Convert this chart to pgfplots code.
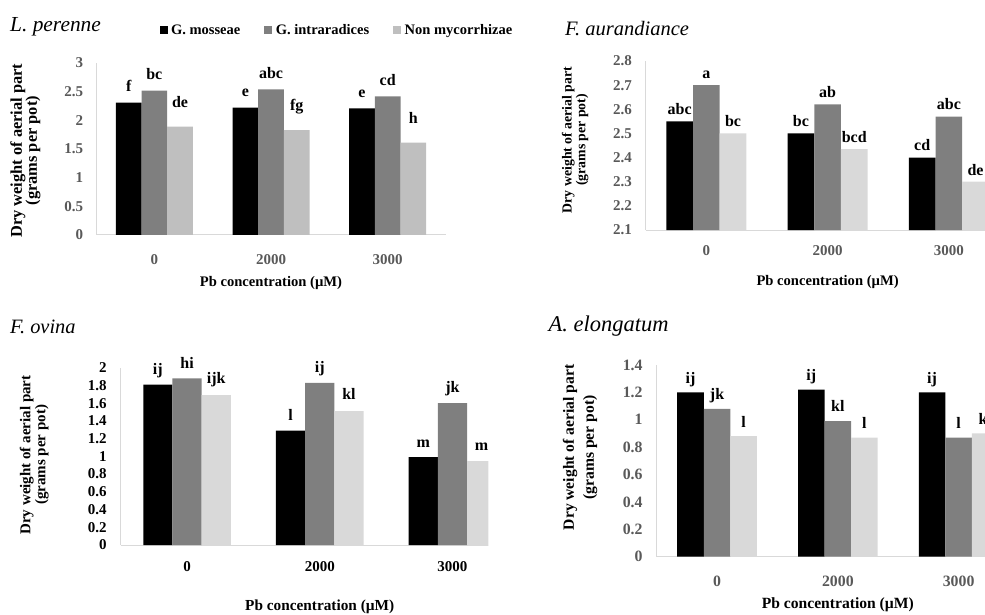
\documentclass[border=0pt]{standalone}
\usepackage{fontspec}
\setmainfont{Liberation Serif}
\usepackage{pgfplots}
\pgfplotsset{compat=1.18}
\usepackage{pgfplotstable}

\definecolor{cgi}{HTML}{7F7F7F}
\definecolor{cnmA}{HTML}{BFBFBF}
\definecolor{cnmB}{HTML}{D9D9D9}
\definecolor{tickgray}{HTML}{595959}
\definecolor{axgray}{HTML}{D9D9D9}
\newcommand\fs[2]{\fontsize{#1}{#2}\selectfont}

\pgfplotstableread{
x gm gi nm lgm lgi lnm
0 2.31 2.52 1.89 f bc de
1 2.22 2.54 1.83 e abc fg
2 2.21 2.42 1.61 e cd h
}\tabA
\pgfplotstableread{
x gm gi nm lgm lgi lnm
0 2.55 2.70 2.50 abc a bc
1 2.50 2.62 2.435 bc ab bcd
2 2.40 2.57 2.30 cd abc de
}\tabB
\pgfplotstableread{
x gm gi nm lgm lgi lnm
0 1.81 1.88 1.69 ij hi ijk
1 1.29 1.83 1.51 l ij kl
2 0.99 1.60 0.945 m jk m
}\tabC
\pgfplotstableread{
x gm gi nm lgm lgi lnm
0 1.20 1.08 0.88 ij jk l
1 1.22 0.99 0.87 ij kl l
2 1.20 0.87 0.90 ij l kl
}\tabD

\pgfplotsset{
  panel/.style={
    scale only axis, anchor=south west,
    xmin=-0.5, xmax=2.5, xtick={0,1,2}, xticklabels={0,2000,3000},
    axis x line*=bottom, axis y line*=left,
    axis line style={draw=axgray, line width=1pt, -},
    major tick length=0pt,
    ybar, bar width=0.22,
    /pgf/number format/assume math mode=true,
    tick label style={font=\bfseries\fs{15}{18}, inner sep=0pt},
    xticklabel style={anchor=center},
    yticklabel style={anchor=east},
    xlabel style={font=\bfseries\fs{14.6}{15}, at={(axis description cs:0.5,0)}, anchor=center, inner sep=0pt},
    ylabel style={align=center, anchor=center, inner sep=0pt},
    every axis title shift=0pt,
    title style={anchor=base west, inner sep=0pt},
    point meta=explicit symbolic,
    nodes near coords,
    nodes near coords style={font=\bfseries\fs{16}{16}, inner sep=0pt, anchor=south, text depth=0pt},
    xlabel={Pb concentration (µM)},
    ylabel={Dry weight of aerial part\\(grams per pot)},
  },
}

\begin{document}
\begin{tikzpicture}[x=1pt,y=1pt]
\useasboundingbox (0,0) rectangle (985,614);
\clip (0,0) rectangle (985,614);

% Panel 1: L. perenne
\begin{axis}[panel,
  at={(96pt,379pt)}, width=350pt, height=172pt,
  ymin=0, ymax=3, ytick={0,0.5,1,1.5,2,2.5,3},
  tick label style={text=tickgray},
  xticklabel style={yshift=-25pt},
  yticklabel style={xshift=-12.7pt},
  xlabel style={yshift=-48pt},
  ylabel style={font=\bfseries\fs{16.4}{15}, at={(axis description cs:-0.2014,0.49)}},
  title={L. perenne},
  title style={font=\itshape\fs{21.4}{22}, at={(axis description cs:-0.2457,1.182)}},
  legend style={at={(axis description cs:0.181,1.192)}, anchor=west, draw=none, fill=none,
    inner sep=0pt, font=\bfseries\fs{14.5}{15}, legend columns=3,
    /tikz/every even column/.append style={column sep=22pt},
    /tikz/every odd column/.append style={column sep=1.5pt}},
]
\addplot[fill=black, draw=none, bar shift=-0.22, every node near coord/.append style={yshift=11pt},
  legend image code/.code={\fill[black] (0pt,-4pt) rectangle (8pt,4pt);}]
  table[x=x, y=gm, meta=lgm]{\tabA};
\addplot[fill=cgi, draw=none, bar shift=0, every node near coord/.append style={yshift=11pt},
  legend image code/.code={\fill[cgi] (0pt,-4pt) rectangle (8pt,4pt);}]
  table[x=x, y=gi, meta=lgi]{\tabA};
\addplot[fill=cnmA, draw=none, bar shift=0.22, every node near coord/.append style={yshift=19pt},
  legend image code/.code={\fill[cnmA] (0pt,-4pt) rectangle (8pt,4pt);}]
  table[x=x, y=nm, meta=lnm]{\tabA};
\legend{G. mosseae, G. intraradices, Non mycorrhizae}
\end{axis}

% Panel 2: F. aurandiance
\begin{axis}[panel,
  at={(645.7pt,384pt)}, width=363.8pt, height=169pt,
  ymin=2.1, ymax=2.8, ytick={2.1,2.2,2.3,2.4,2.5,2.6,2.7,2.8},
  tick label style={text=tickgray},
  xticklabel style={yshift=-20.7pt},
  yticklabel style={xshift=-13.7pt},
  xlabel style={yshift=-51.7pt},
  ylabel style={font=\bfseries\fs{13.8}{13.7}, at={(axis description cs:-0.194,0.533)}},
  title={F. aurandiance},
  title style={font=\itshape\fs{20.5}{21}, at={(axis description cs:-0.2218,1.148)}},
]
\addplot[fill=black, draw=none, bar shift=-0.22, every node near coord/.append style={yshift=6.5pt}]
  table[x=x, y=gm, meta=lgm]{\tabB};
\addplot[fill=cgi, draw=none, bar shift=0, every node near coord/.append style={yshift=6.5pt}]
  table[x=x, y=gi, meta=lgi]{\tabB};
\addplot[fill=cnmB, draw=none, bar shift=0.22, every node near coord/.append style={yshift=6.5pt}]
  table[x=x, y=nm, meta=lnm]{\tabB};
\end{axis}

% Panel 3: F. ovina
\begin{scope}
\clip (0,0) rectangle (488.3,614);
\begin{axis}[panel,
  at={(120.7pt,69pt)}, width=398.1pt, height=177.3pt,
  ymin=0, ymax=2, ytick={0,0.2,0.4,0.6,0.8,1,1.2,1.4,1.6,1.8,2},
  tick label style={text=black},
  xticklabel style={yshift=-21.7pt},
  yticklabel style={xshift=-14pt},
  xlabel style={yshift=-62.3pt, font=\bfseries\fs{15.3}{15}},
  ylabel style={font=\bfseries\fs{15}{15}, at={(axis description cs:-0.2173,0.508)}},
  title={F. ovina},
  title style={font=\itshape\fs{20.4}{21}, at={(axis description cs:-0.278,1.194)}},
]
\addplot[fill=black, draw=none, bar shift=-0.22, every node near coord/.append style={yshift=10pt}]
  table[x=x, y=gm, meta=lgm]{\tabC};
\addplot[fill=cgi, draw=none, bar shift=0, every node near coord/.append style={yshift=10pt}]
  table[x=x, y=gi, meta=lgi]{\tabC};
\addplot[fill=cnmB, draw=none, bar shift=0.22, every node near coord/.append style={yshift=11pt}]
  table[x=x, y=nm, meta=lnm]{\tabC};
\end{axis}
\end{scope}

% Panel 4: A. elongatum
\begin{axis}[panel,
  at={(656.7pt,57.3pt)}, width=362.3pt, height=191.7pt,
  ymin=0, ymax=1.4, ytick={0,0.2,0.4,0.6,0.8,1,1.2,1.4},
  tick label style={text=tickgray, font=\bfseries\fs{15.8}{18}},
  xticklabel style={yshift=-25pt},
  yticklabel style={xshift=-14pt},
  xlabel style={yshift=-48.3pt, font=\bfseries\fs{15.6}{15}},
  ylabel style={font=\bfseries\fs{15.6}{20}, at={(axis description cs:-0.2117,0.570)}},
  title={A. elongatum},
  title style={font=\itshape\fs{22.5}{23}, at={(axis description cs:-0.299,1.174)}},
]
\addplot[fill=black, draw=none, bar shift=-0.22, every node near coord/.append style={yshift=9pt}]
  table[x=x, y=gm, meta=lgm]{\tabD};
\addplot[fill=cgi, draw=none, bar shift=0, every node near coord/.append style={yshift=9pt}]
  table[x=x, y=gi, meta=lgi]{\tabD};
\addplot[fill=cnmB, draw=none, bar shift=0.22, every node near coord/.append style={yshift=9pt}]
  table[x=x, y=nm, meta=lnm]{\tabD};
\end{axis}
\end{tikzpicture}
\end{document}
